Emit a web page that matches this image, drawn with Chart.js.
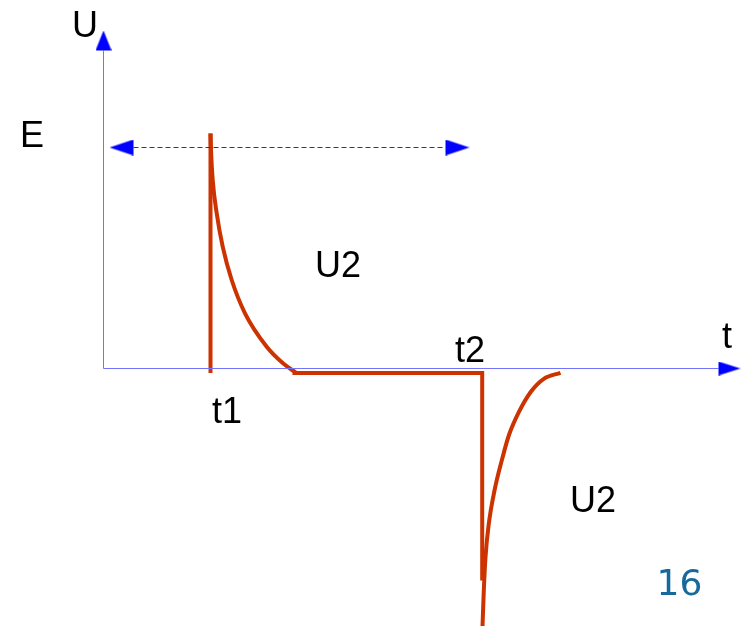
<!DOCTYPE html>
<html>
<head>
<meta charset="utf-8">
<script src="https://cdn.jsdelivr.net/npm/chart.js@4"></script>
<style>
  html, body { margin: 0; padding: 0; background: #ffffff; }
  #wrap { width: 743px; height: 626px; }
</style>
</head>
<body>
<div id="wrap"><canvas id="c" width="743" height="626"></canvas></div>
<script>
// ---- data (t in time units, U in voltage units) ----
const E = 22.1;
const t1 = 10.7;
const t2 = 37.87;
const U0 = -0.45;        // level of the trace on the t axis
const stepTop = 23.5;    // top of the jump at t1
const dropBottom = -21.2;// bottom of the drop at t2

// exponential decay after t1
const decayT = [t1, 10.75, 10.92, 11.32, 11.92, 12.82, 14.15, 16.32, 17.98, 19.3];
const decayU = [23.5, 21.85, 18.85, 15.52, 12.18, 8.85, 5.52, 2.18, 0.5, -0.45];

// negative recovery after t2
const recoverT = [37.9, 38.03, 38.2, 38.53, 39.1, 39.87, 40.53, 41.53, 42.7, 44.03, 45.7];
const recoverU = [-25.8, -22.2, -18.87, -15.53, -12.2, -9.03, -6.7, -4.37, -2.37, -1.03, -0.43];

// axes
const uAxisTop = 31.8;
const tAxisEnd = 61.5;
// E reference line (double arrow)
const eLineT = [3.0, 34.2];

// text labels
const labelText = ["U", "E", "U2", "t2", "t", "t1", "U2"];
const labelT    = [-3.15, -8.35, 21.15, 35.15, 61.85, 10.85, 46.65];
const labelU    = [33.15, 22.15, 9.15, 0.65, 2.05, -5.48, -14.32];
const pageNumber = "16";
const pageNumT = 55.3, pageNumU = -22.65;

// ---- helpers ----
function zip(xs, ys) { return xs.map((x, i) => ({ x: x, y: ys[i] })); }
function arrowCanvas(len, h, color) {
  const cv = document.createElement('canvas');
  cv.width = len * 2; cv.height = h;
  const g = cv.getContext('2d');
  g.fillStyle = color;
  g.beginPath();
  g.moveTo(len, 0);
  g.lineTo(len * 2, h / 2);
  g.lineTo(len, h);
  g.closePath();
  g.fill();
  return cv;
}
const arrowY = arrowCanvas(20, 16, '#0000ff');
const arrowX = arrowCanvas(22, 14, '#0000ff');
const arrowE = arrowCanvas(24, 16, '#0000ff');

const labelsPlugin = {
  id: 'labels',
  afterDatasetsDraw(chart) {
    const ctx = chart.ctx;
    const xs = chart.scales.x, ys = chart.scales.y;
    ctx.save();
    ctx.textAlign = 'left';
    ctx.textBaseline = 'alphabetic';
    ctx.fillStyle = '#000000';
    ctx.font = '36px "Liberation Sans", Arial, sans-serif';
    labelText.forEach((s, i) => {
      ctx.fillText(s, xs.getPixelForValue(labelT[i]), ys.getPixelForValue(labelU[i]));
    });
    ctx.fillStyle = '#17699b';
    ctx.font = '36px "DejaVu Sans", sans-serif';
    ctx.fillText(pageNumber, xs.getPixelForValue(pageNumT), ys.getPixelForValue(pageNumU));
    ctx.restore();
  }
};

const red = '#cc3300';
new Chart(document.getElementById('c'), {
  type: 'scatter',
  data: {
    datasets: [
      { // U axis
        data: zip([0, 0], [0, uAxisTop]), showLine: true,
        borderColor: '#7373ff', borderWidth: 1,
        pointRadius: [0, 1], pointHoverRadius: 0, pointStyle: arrowY, rotation: -90
      },
      { // t axis
        data: zip([0, tAxisEnd], [0, 0]), showLine: true,
        borderColor: '#7373ff', borderWidth: 1,
        pointRadius: [0, 1], pointHoverRadius: 0, pointStyle: arrowX, rotation: 0
      },
      { // E double arrow
        data: zip(eLineT, [E, E]), showLine: true,
        borderColor: '#2323ee', borderWidth: 1, borderDash: [5, 3],
        pointRadius: 1, pointHoverRadius: 0, pointStyle: arrowE, rotation: [180, 0]
      },
      { // jump at t1
        data: zip([t1, t1], [U0, stepTop]), showLine: true,
        borderColor: red, borderWidth: 4, pointRadius: 0, pointHoverRadius: 0,
        borderCapStyle: 'butt'
      },
      { // decay
        data: zip(decayT, decayU), showLine: true,
        borderColor: red, borderWidth: 4, pointRadius: 0, pointHoverRadius: 0,
        cubicInterpolationMode: 'monotone'
      },
      { // flat segment and drop at t2
        data: zip([18.9, t2, t2], [U0, U0, dropBottom]), showLine: true,
        borderColor: red, borderWidth: 4, pointRadius: 0, pointHoverRadius: 0,
        borderJoinStyle: 'miter', tension: 0
      },
      { // negative recovery
        data: zip(recoverT, recoverU), showLine: true,
        borderColor: red, borderWidth: 4, pointRadius: 0, pointHoverRadius: 0,
        cubicInterpolationMode: 'monotone'
      }
    ]
  },
  options: {
    responsive: false,
    animation: false,
    devicePixelRatio: 1,
    layout: { padding: 0, autoPadding: false },
    plugins: { legend: { display: false }, tooltip: { enabled: false } },
    events: [],
    scales: {
      x: { type: 'linear', min: -10.35, max: 63.95, display: false },
      y: { type: 'linear', min: -25.75, max: 36.85, display: false }
    }
  },
  plugins: [labelsPlugin]
});
</script>
</body>
</html>
